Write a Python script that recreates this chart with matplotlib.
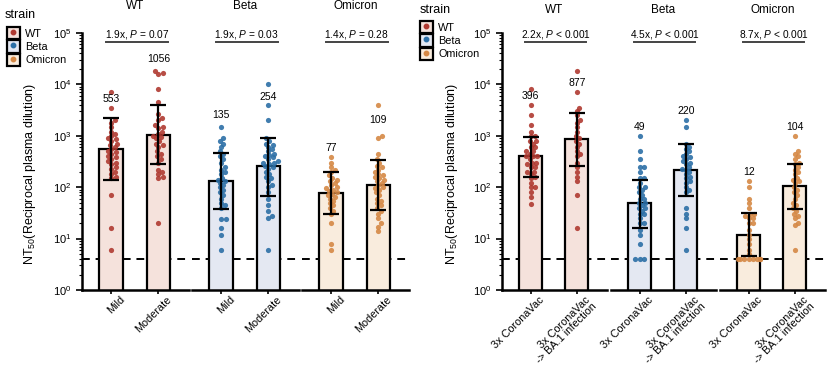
import numpy as np
import matplotlib
matplotlib.use("Agg")
import matplotlib.pyplot as plt
import matplotlib.transforms as mtransforms
from matplotlib.patches import Patch
from matplotlib.lines import Line2D
from matplotlib.legend_handler import HandlerTuple

plt.rcParams['font.family'] = ['Liberation Sans', 'DejaVu Sans']
plt.rcParams['mathtext.fontset'] = 'custom'
plt.rcParams['mathtext.rm'] = 'Liberation Sans'
plt.rcParams['mathtext.it'] = 'Liberation Sans:italic'

strains = ['WT', 'Beta', 'Omicron']
dark = {'WT': '#b03a31', 'Beta': '#2c6fa6', 'Omicron': '#d58845'}
light = {'WT': '#f5e2dc', 'Beta': '#e4e8f2', 'Omicron': '#f9ecdd'}
lod = 4

# ---- left panel: convalescent, mild vs moderate ----
left_groups = ['Mild', 'Moderate']
left_gmt = [[553, 1056], [135, 254], [77, 109]]
left_lo = [[138, 282], [38, 68], [30, 36]]
left_hi = [[2200, 4000], [465, 910], [200, 340]]
left_label_y = [[5200, 31000], [2500, 5700], [580, 2000]]
left_stats = ['1.9x, $P$ = 0.07', '1.9x, $P$ = 0.03', '1.4x, $P$ = 0.28']
left_points = [
    [[7000, 3500, 2000, 1800, 1500, 1200, 1100, 1000, 900, 850, 800, 700, 650,
      600, 550, 500, 480, 450, 400, 380, 350, 320, 300, 280, 250, 230, 200,
      180, 160, 150, 70, 16, 6],
     [18000, 17000, 16000, 8000, 4500, 2700, 2200, 2000, 1600, 1500, 1400,
      1200, 1100, 1000, 950, 900, 800, 700, 650, 600, 500, 450, 400, 350, 300,
      220, 200, 180, 160, 150, 20]],
    [[1500, 900, 800, 700, 600, 500, 450, 400, 350, 300, 250, 220, 200, 180,
      150, 140, 130, 120, 110, 100, 90, 80, 70, 60, 50, 45, 40, 24, 24, 16,
      12, 6],
     [10000, 4000, 2000, 900, 800, 700, 650, 600, 550, 500, 450, 420, 400, 380,
      350, 320, 300, 300, 280, 260, 250, 230, 200, 180, 160, 150, 130, 110,
      100, 80, 60, 45, 35, 28, 25, 6]],
    [[380, 300, 250, 220, 200, 170, 150, 140, 130, 120, 110, 100, 95, 90, 85,
      80, 75, 70, 65, 60, 55, 50, 45, 40, 35, 30, 20, 8, 6],
     [4000, 1000, 900, 450, 350, 300, 260, 250, 220, 200, 180, 170, 160, 150,
      140, 130, 120, 110, 100, 95, 90, 80, 70, 60, 55, 50, 45, 40, 35, 30, 25,
      20, 17, 14]],
]

# ---- right panel: 3x CoronaVac vs breakthrough ----
right_groups = ['3x CoronaVac', '3x CoronaVac\n-> BA.1 infection']
right_gmt = [[396, 877], [49, 220], [12, 104]]
right_lo = [[160, 260], [16, 68], [4.6, 37]]
right_hi = [[950, 2780], [138, 690], [31, 285]]
right_label_y = [[5900, 10700], [1500, 3000], [200, 1500]]
right_stats = ['2.2x, $P$ < 0.001', '4.5x, $P$ < 0.001', '8.7x, $P$ < 0.001']
right_points = [
    [[8000, 4000, 2500, 1600, 1200, 1000, 1000, 800, 800, 700, 600, 600, 500,
      500, 450, 400, 400, 400, 350, 300, 300, 280, 250, 250, 200, 200, 180,
      160, 150, 120, 100, 100, 80, 65, 48],
     [18000, 7000, 3500, 3000, 2500, 2000, 1800, 1500, 1200, 1000, 900, 800,
      700, 600, 500, 450, 400, 300, 250, 200, 160, 130, 70, 16]],
    [[1000, 500, 350, 250, 250, 200, 150, 150, 120, 100, 100, 90, 80, 70, 60,
      60, 50, 50, 45, 40, 40, 35, 30, 30, 25, 20, 20, 15, 12, 8, 4, 4, 4],
     [2000, 1500, 700, 600, 550, 500, 450, 400, 380, 350, 320, 300, 280, 250,
      230, 220, 200, 180, 160, 150, 130, 120, 100, 90, 80, 40, 30, 25, 16, 6]],
    [[130, 100, 60, 50, 40, 30, 30, 28, 25, 25, 20, 20, 15, 12, 10, 8, 6, 5,
      4, 4, 4, 4, 4, 4, 4, 4, 4],
     [1000, 500, 450, 400, 350, 300, 280, 250, 220, 200, 180, 150, 140, 130,
      120, 100, 90, 80, 70, 60, 50, 45, 40, 35, 30, 28, 25, 20, 18, 6]],
]

W, H = 831, 366
fig = plt.figure(figsize=(W / 100, H / 100), dpi=100)

PX_DEC = 51.4
XLIM = (-0.62, 1.65)


def swarm(vals, center, unit_px, dot=3.8, step=1.1, max_px=11):
    y = np.log10(vals) * PX_DEC
    xs = np.zeros(len(vals))
    placed = []
    for i in np.argsort(y):
        chosen = 0.0
        for k in range(60):
            cands = [0.0] if k == 0 else [k * step, -k * step]
            good = [c for c in cands
                    if all((c - px) ** 2 + (y[i] - py) ** 2 >= dot ** 2
                           for px, py in placed)]
            if good:
                chosen = good[0]
                break
        chosen = float(np.clip(chosen, -max_px, max_px))
        placed.append((chosen, y[i]))
        xs[i] = center + chosen / unit_px
    return xs


def draw_panel(lefts, width, groups, gmt, lo, hi, label_y, stats, points,
               title_y, ylab_x, xfs):
    shift = mtransforms.ScaledTranslation(8 / 100, 1 / 100, fig.dpi_scale_trans)
    for g, strain in enumerate(strains):
        ax = fig.add_axes([lefts[g] / W, (H - 290) / H, width / W, 257 / H])
        unit = width / (XLIM[1] - XLIM[0])
        x = np.arange(len(groups))
        ax.bar(x, gmt[g], width=0.5, color=light[strain], edgecolor='black',
               linewidth=1.6, zorder=1)
        for j in range(len(groups)):
            pts = np.array(points[g][j], dtype=float)
            px = swarm(pts, j, unit)
            ax.scatter(px, pts, s=14, color=dark[strain], alpha=0.9,
                       linewidths=0, zorder=2)
        yerr = [np.array(gmt[g]) - np.array(lo[g]),
                np.array(hi[g]) - np.array(gmt[g])]
        ax.errorbar(x, gmt[g], yerr=yerr, fmt='none', ecolor='black',
                    elinewidth=1.6, capsize=5.5, capthick=1.6, zorder=3)
        for j in range(len(groups)):
            ax.text(j, label_y[g][j], str(gmt[g][j]), ha='center', va='center',
                    fontsize=7.5, zorder=4)
        ax.axhline(lod, color='black', ls=(0, (4, 3)), lw=1.4, zorder=0.5)
        ax.set_yscale('log')
        ax.set_ylim(1, 1e5)
        ax.set_xlim(*XLIM)
        ax.set_xticks(x)
        ax.set_xticklabels(groups, rotation=45, ha='right',
                           rotation_mode='anchor', fontsize=xfs,
                           multialignment='right', linespacing=0.9)
        ax.tick_params(axis='x', length=3, width=1.2, pad=1)
        for lab in ax.get_xticklabels():
            lab.set_transform(lab.get_transform() + shift)
        # comparison bar
        ax.plot([-0.12, 1.2], [6.6e4, 6.6e4], color='#444444', lw=1.4,
                clip_on=False)
        ax.text(0.54, 7.0e4, stats[g], ha='center', va='bottom', fontsize=7.3)
        ax.text(0.5, title_y, strain, transform=ax.transAxes, ha='center',
                va='center', fontsize=8.5)
        for s in ['top', 'right']:
            ax.spines[s].set_visible(False)
        ax.spines['bottom'].set_linewidth(1.8)
        if g == 0:
            ax.spines['left'].set_linewidth(1.8)
            ax.tick_params(axis='y', which='major', length=4, width=1.2,
                           labelsize=8)
            ax.tick_params(axis='y', which='minor', length=2, width=0.8)
        else:
            ax.spines['left'].set_visible(False)
            ax.tick_params(axis='y', which='both', left=False, labelleft=False)
        ax.patch.set_alpha(0)
    fig.text(ylab_x / W, (H - 174) / H, 'NT$_{50}$(Reciprocal plasma dilution)',
             rotation=90, ha='center', va='center', fontsize=9)


draw_panel([82, 192, 302], 107, left_groups, left_gmt, left_lo, left_hi,
           left_label_y, left_stats, left_points, 1.105, 30, 7.8)
draw_panel([502, 611, 720], 105, right_groups, right_gmt, right_lo, right_hi,
           right_label_y, right_stats, right_points, 1.09, 452, 7.8)

handles = [(Patch(facecolor=light[s], edgecolor='black', linewidth=1.6),
            Line2D([], [], marker='o', color=dark[s], ls='', ms=3.2))
           for s in strains]
# legend title drawn separately to control its gap
for tx, ty, lx, ly in [(5, 15, 4, 24), (420, 10, 417, 18)]:
    fig.text(tx / W, 1 - ty / H, 'strain', ha='left', va='center', fontsize=9)
    fig.legend(handles, strains, loc='upper left',
               bbox_to_anchor=(lx / W, 1 - ly / H),
               frameon=False, fontsize=7.8, handlelength=1.15,
               handleheight=1.35, labelspacing=0.1, handletextpad=0.5,
               borderpad=0.3, borderaxespad=0,
               handler_map={tuple: HandlerTuple(ndivide=1)})

fig.savefig('out.png', dpi=100)
